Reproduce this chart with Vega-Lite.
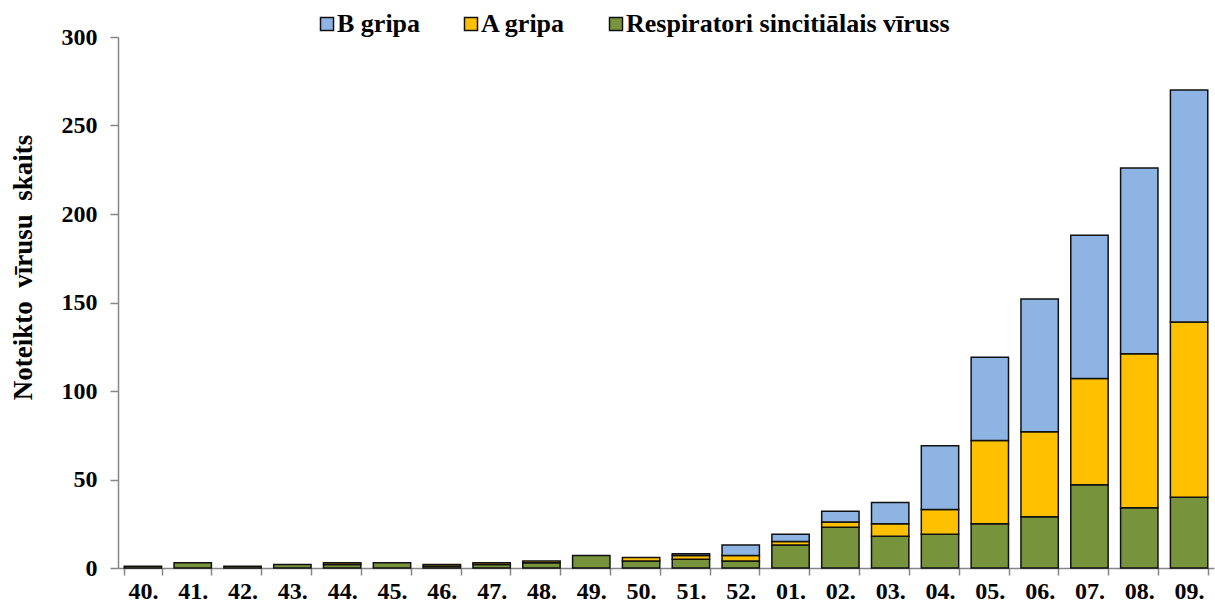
{
  "$schema": "https://vega.github.io/schema/vega-lite/v6.json",
  "autosize": "none",
  "padding": {"left": 118, "top": 37, "right": 1, "bottom": 40},
  "width": 1096,
  "height": 531,
  "background": "white",
  "config": {
    "view": {"stroke": null},
    "font": "Liberation Serif"
  },
  "data": {
    "values": [
      {"week": "40.", "series": "Respiratori sincitiālais vīruss", "ord": 1, "n": 1},
      {"week": "41.", "series": "Respiratori sincitiālais vīruss", "ord": 1, "n": 3},
      {"week": "42.", "series": "Respiratori sincitiālais vīruss", "ord": 1, "n": 1},
      {"week": "43.", "series": "Respiratori sincitiālais vīruss", "ord": 1, "n": 2},
      {"week": "44.", "series": "Respiratori sincitiālais vīruss", "ord": 1, "n": 2},
      {"week": "44.", "series": "A gripa", "ord": 2, "n": 1},
      {"week": "45.", "series": "Respiratori sincitiālais vīruss", "ord": 1, "n": 3},
      {"week": "46.", "series": "Respiratori sincitiālais vīruss", "ord": 1, "n": 1},
      {"week": "46.", "series": "A gripa", "ord": 2, "n": 1},
      {"week": "47.", "series": "Respiratori sincitiālais vīruss", "ord": 1, "n": 2},
      {"week": "47.", "series": "A gripa", "ord": 2, "n": 1},
      {"week": "48.", "series": "Respiratori sincitiālais vīruss", "ord": 1, "n": 3},
      {"week": "48.", "series": "A gripa", "ord": 2, "n": 1},
      {"week": "49.", "series": "Respiratori sincitiālais vīruss", "ord": 1, "n": 7},
      {"week": "50.", "series": "Respiratori sincitiālais vīruss", "ord": 1, "n": 4},
      {"week": "50.", "series": "A gripa", "ord": 2, "n": 2},
      {"week": "51.", "series": "Respiratori sincitiālais vīruss", "ord": 1, "n": 5},
      {"week": "51.", "series": "A gripa", "ord": 2, "n": 2},
      {"week": "51.", "series": "B gripa", "ord": 3, "n": 1},
      {"week": "52.", "series": "Respiratori sincitiālais vīruss", "ord": 1, "n": 4},
      {"week": "52.", "series": "A gripa", "ord": 2, "n": 3},
      {"week": "52.", "series": "B gripa", "ord": 3, "n": 6},
      {"week": "01.", "series": "Respiratori sincitiālais vīruss", "ord": 1, "n": 13},
      {"week": "01.", "series": "A gripa", "ord": 2, "n": 2},
      {"week": "01.", "series": "B gripa", "ord": 3, "n": 4},
      {"week": "02.", "series": "Respiratori sincitiālais vīruss", "ord": 1, "n": 23},
      {"week": "02.", "series": "A gripa", "ord": 2, "n": 3},
      {"week": "02.", "series": "B gripa", "ord": 3, "n": 6},
      {"week": "03.", "series": "Respiratori sincitiālais vīruss", "ord": 1, "n": 18},
      {"week": "03.", "series": "A gripa", "ord": 2, "n": 7},
      {"week": "03.", "series": "B gripa", "ord": 3, "n": 12},
      {"week": "04.", "series": "Respiratori sincitiālais vīruss", "ord": 1, "n": 19},
      {"week": "04.", "series": "A gripa", "ord": 2, "n": 14},
      {"week": "04.", "series": "B gripa", "ord": 3, "n": 36},
      {"week": "05.", "series": "Respiratori sincitiālais vīruss", "ord": 1, "n": 25},
      {"week": "05.", "series": "A gripa", "ord": 2, "n": 47},
      {"week": "05.", "series": "B gripa", "ord": 3, "n": 47},
      {"week": "06.", "series": "Respiratori sincitiālais vīruss", "ord": 1, "n": 29},
      {"week": "06.", "series": "A gripa", "ord": 2, "n": 48},
      {"week": "06.", "series": "B gripa", "ord": 3, "n": 75},
      {"week": "07.", "series": "Respiratori sincitiālais vīruss", "ord": 1, "n": 47},
      {"week": "07.", "series": "A gripa", "ord": 2, "n": 60},
      {"week": "07.", "series": "B gripa", "ord": 3, "n": 81},
      {"week": "08.", "series": "Respiratori sincitiālais vīruss", "ord": 1, "n": 34},
      {"week": "08.", "series": "A gripa", "ord": 2, "n": 87},
      {"week": "08.", "series": "B gripa", "ord": 3, "n": 105},
      {"week": "09.", "series": "Respiratori sincitiālais vīruss", "ord": 1, "n": 40},
      {"week": "09.", "series": "A gripa", "ord": 2, "n": 99},
      {"week": "09.", "series": "B gripa", "ord": 3, "n": 131}
    ]
  },
  "mark": {"type": "bar", "stroke": "#111111", "strokeWidth": 1.5},
  "encoding": {
    "x": {
      "field": "week",
      "type": "nominal",
      "sort": null,
      "scale": {"paddingInner": 0.25, "paddingOuter": 0.125},
      "axis": {
        "title": null,
        "labelAngle": 0,
        "labelFont": "Liberation Serif",
        "labelFontWeight": "bold",
        "labelFontSize": 24,
        "labelColor": "black",
        "labelPadding": 4,
        "tickBand": "extent",
        "tickSize": 7,
        "tickColor": "#868686",
        "domainColor": "#868686",
        "domainWidth": 1.5,
        "tickWidth": 1.5
      }
    },
    "y": {
      "field": "n",
      "type": "quantitative",
      "stack": "zero",
      "scale": {"domain": [0, 300], "nice": false},
      "axis": {
        "title": "Noteikto\u00a0\u00a0vīrusu\u00a0\u00a0skaits",
        "titleFont": "Liberation Serif",
        "titleFontWeight": "bold",
        "titleFontSize": 27,
        "titleColor": "black",
        "titleAngle": -90,
        "titleAlign": "center",
        "titleBaseline": "middle",
        "titleX": -95,
        "titleY": 230,
        "values": [0, 50, 100, 150, 200, 250, 300],
        "grid": false,
        "labelFont": "Liberation Serif",
        "labelFontWeight": "bold",
        "labelFontSize": 24,
        "labelColor": "black",
        "labelPadding": 13,
        "tickSize": 8,
        "tickColor": "#868686",
        "domainColor": "#868686",
        "domainWidth": 1.5,
        "tickWidth": 1.5
      }
    },
    "color": {
      "field": "series",
      "type": "nominal",
      "scale": {
        "domain": ["B gripa", "A gripa", "Respiratori sincitiālais vīruss"],
        "range": ["#8EB4E3", "#FFC000", "#77933C"]
      },
      "legend": {
        "title": null,
        "orient": "none",
        "direction": "horizontal",
        "legendX": 196,
        "legendY": -26,
        "symbolType": "square",
        "symbolSize": 169,
        "symbolStrokeColor": "#111111",
        "symbolStrokeWidth": 1.5,
        "labelFont": "Liberation Serif",
        "labelFontWeight": "bold",
        "labelFontSize": 26,
        "labelColor": "black",
        "labelOffset": -3,
        "columnPadding": 37,
        "labelLimit": 500
      }
    },
    "order": {"field": "ord", "type": "quantitative", "sort": "ascending"}
  }
}
